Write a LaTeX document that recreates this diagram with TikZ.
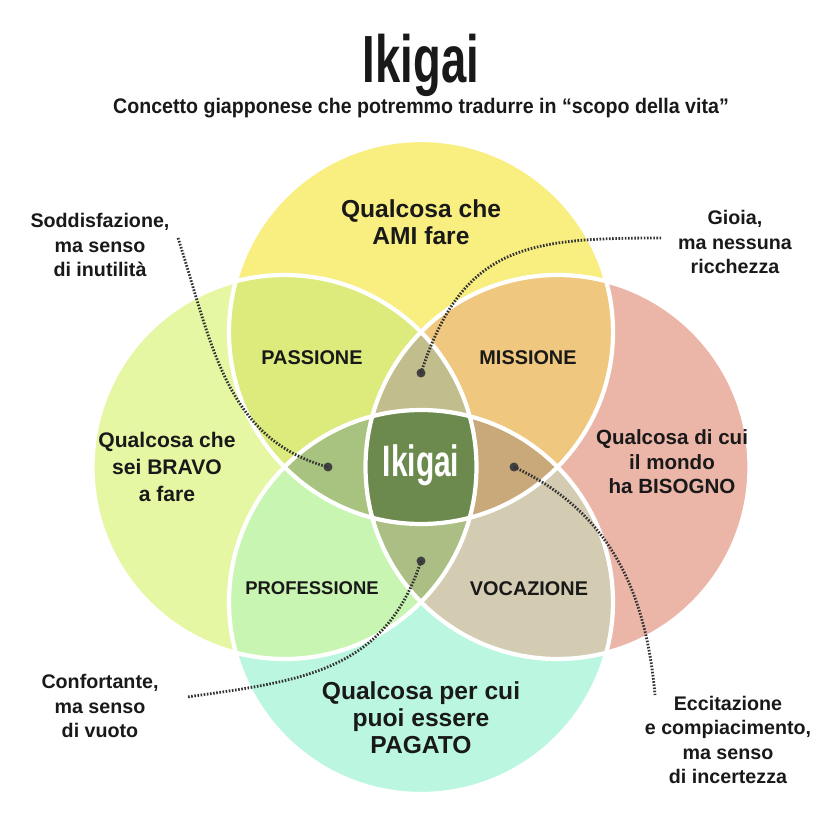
\documentclass[tikz,border=0pt]{standalone}
\usepackage{fontspec}
\setmainfont{Liberation Sans}
\newfontfamily\condfont[FakeStretch=0.68]{Liberation Sans}
\newfontfamily\subfont[FakeStretch=0.93]{Liberation Sans}

\definecolor{cTop}{RGB}{249,238,128}
\definecolor{cLeft}{RGB}{229,247,163}
\definecolor{cRight}{RGB}{235,181,168}
\definecolor{cBot}{RGB}{187,247,224}
\definecolor{cPass}{RGB}{220,235,124}
\definecolor{cMiss}{RGB}{240,199,126}
\definecolor{cProf}{RGB}{201,245,178}
\definecolor{cVoc}{RGB}{211,204,178}
\definecolor{cLensT}{RGB}{193,189,140}
\definecolor{cLensL}{RGB}{168,194,127}
\definecolor{cLensR}{RGB}{201,169,122}
\definecolor{cLensB}{RGB}{171,191,133}
\definecolor{cCore}{RGB}{108,138,78}
\definecolor{ink}{RGB}{25,25,25}

\def\circTop{(0,2.7) circle (3.84)}
\def\circLeft{(-2.73,0) circle (3.84)}
\def\circRight{(2.73,0) circle (3.84)}
\def\circBot{(0,-2.7) circle (3.84)}

\tikzset{
  biglab/.style={font=\bfseries\fontsize{14}{15.4}\selectfont, align=center, text=ink},
  sidelab/.style={font=\bfseries\fontsize{12}{15.4}\selectfont, align=center, text=ink},
  zonelab/.style={font=\bfseries\fontsize{11.3}{13}\selectfont, text=ink},
  notelab/.style={font=\bfseries\fontsize{11.2}{13.7}\selectfont, align=center, text=ink},
  enddot/.style={circle, fill=black!75, inner sep=0pt, minimum size=0.18cm},
  leader/.style={line width=1.6pt, dash pattern=on 0.9pt off 0.9pt, black!80},
  rim/.style={draw=white, line width=2.4pt}
}

\begin{document}
\begin{tikzpicture}[scale=1]
\useasboundingbox (-8.42,-7.06) rectangle (8.38,9.34);

% title
\node[anchor=base, font=\condfont\bfseries\fontsize{38}{40}\selectfont, text=ink] (title) at (0,7.68) {Ikigai};
\node[anchor=base, font=\subfont\bfseries\fontsize{12}{13}\selectfont, text=ink] (subtitle) at (0,7.06)
  {Concetto giapponese che potremmo tradurre in “scopo della vita”};

% circles
\fill[cTop] \circTop;
\fill[cLeft] \circLeft;
\fill[cRight] \circRight;
\fill[cBot] \circBot;
\begin{scope}
  \clip \circTop;
  \fill[cPass] \circLeft;
  \fill[cMiss] \circRight;
\end{scope}
\begin{scope}
  \clip \circBot;
  \fill[cProf] \circLeft;
  \fill[cVoc] \circRight;
\end{scope}
\begin{scope}
  \clip \circLeft; \clip \circRight;
  \fill[cLensT] \circTop;
  \fill[cLensB] \circBot;
\end{scope}
\begin{scope}
  \clip \circTop; \clip \circBot;
  \fill[cLensL] \circLeft;
  \fill[cLensR] \circRight;
\end{scope}
\begin{scope}
  \clip \circTop; \clip \circBot; \clip \circLeft;
  \fill[cCore] \circRight;
\end{scope}
\draw[rim] \circTop \circLeft \circRight \circBot;

% circle texts
\node[biglab] (ami) at (0,4.9) {Qualcosa che\\AMI fare};
\node[sidelab] (bravo) at (-5.08,0) {Qualcosa che\\sei BRAVO\\a fare};
\node[sidelab, font=\bfseries\fontsize{11.7}{14}\selectfont] (bisogno) at (5.02,0.1) {Qualcosa di cui\\il mondo\\ha BISOGNO};
\node[biglab] (pagato) at (0,-5.02) {Qualcosa per cui\\puoi essere\\PAGATO};

\node[zonelab] (passione) at (-2.18,2.18) {PASSIONE};
\node[zonelab] (missione) at (2.14,2.18) {MISSIONE};
\node[zonelab, font=\bfseries\fontsize{10.5}{12}\selectfont] (professione) at (-2.18,-2.42) {PROFESSIONE};
\node[zonelab] (vocazione) at (2.16,-2.44) {VOCAZIONE};
\node[font=\condfont\bfseries\fontsize{25}{27}\selectfont, text=white] (ikigai) at (0,0.04) {Ikigai};

% side notes
\node[notelab] (sodd) at (-6.42,4.44) {Soddisfazione,\\ma senso\\di inutilità};
\node[notelab] (gioia) at (6.28,4.5) {Gioia,\\ma nessuna\\ricchezza};
\node[notelab] (confort) at (-6.42,-4.78) {Confortante,\\ma senso\\di vuoto};
\node[notelab] (eccit) at (6.14,-5.46) {Eccitazione\\e compiacimento,\\ma senso\\di incertezza};

\node[enddot] (dP) at (-1.86,0) {};
\node[enddot] (dM) at (0,1.88) {};
\node[enddot] (dF) at (0,-1.88) {};
\node[enddot] (dV) at (1.86,0) {};

\coordinate (sP) at (-4.86,4.58);
\coordinate (sM) at (4.82,4.58);
\coordinate (sF) at (-4.68,-4.6);
\coordinate (sV) at (4.68,-4.56);

\draw[leader] (sP) to[out=-72,in=165] (dP.center);
\draw[leader] (dM.center) to[out=72,in=180,looseness=1.25] (sM);
\draw[leader] (dF.center) to[out=-108,in=8,looseness=1.1] (sF);
\draw[leader] (dV.center) to[out=-25,in=95] (sV);
\end{tikzpicture}
\end{document}
